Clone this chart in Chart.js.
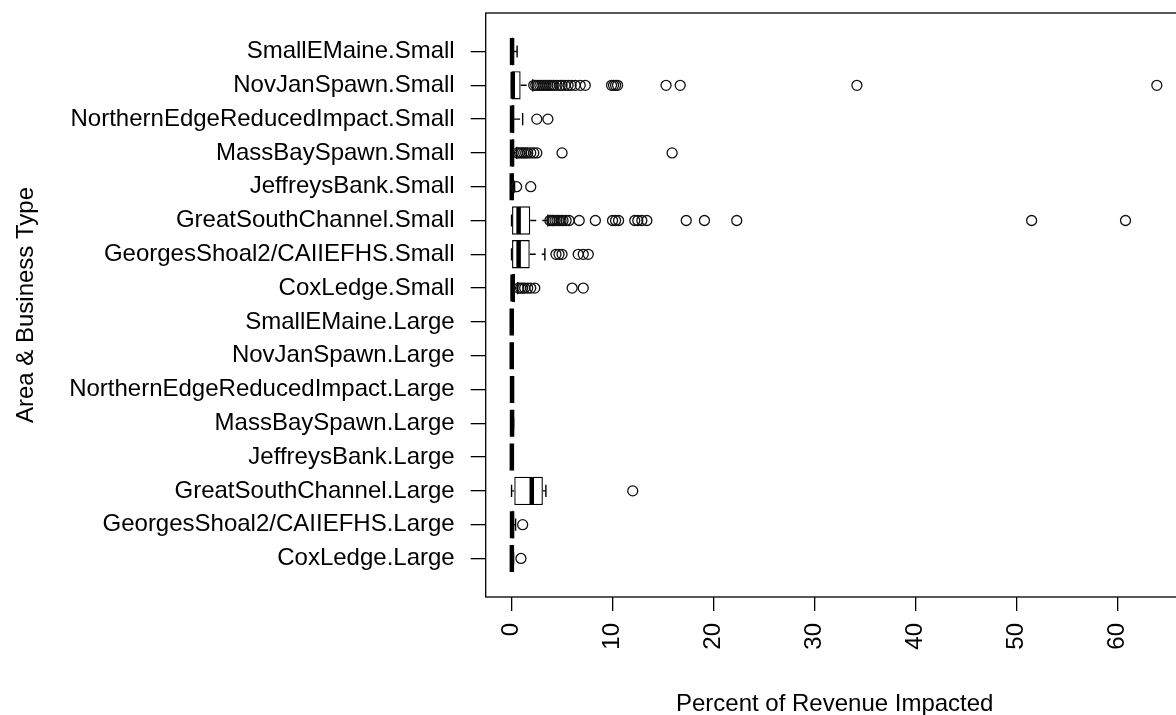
<!DOCTYPE html>
<html>
<head>
<meta charset="utf-8">
<script src="https://cdn.jsdelivr.net/npm/chart.js@4.4.1/dist/chart.umd.min.js"></script>
<style>
html, body { margin: 0; padding: 0; background: #fff; overflow: hidden; width: 1176px; height: 715px; }
#c { display: block; }
</style>
</head>
<body>
<canvas id="c" width="1190" height="715"></canvas>
<script>
// ---- data (top row first) ----
const categories = [
  'SmallEMaine.Small', 'NovJanSpawn.Small', 'NorthernEdgeReducedImpact.Small', 'MassBaySpawn.Small',
  'JeffreysBank.Small', 'GreatSouthChannel.Small', 'GeorgesShoal2/CAIIEFHS.Small', 'CoxLedge.Small',
  'SmallEMaine.Large', 'NovJanSpawn.Large', 'NorthernEdgeReducedImpact.Large', 'MassBaySpawn.Large',
  'JeffreysBank.Large', 'GreatSouthChannel.Large', 'GeorgesShoal2/CAIIEFHS.Large', 'CoxLedge.Large'
];
const whiskerLow  = [0, 0,    0,    0,    0,    0,    0,    0,    0, 0, 0,    0,    0,    0.0,  0,    0];
const q1          = [0, 0.02, 0,    0,    0,    0.05, 0.05, 0,    0, 0, 0,    0,    0,    0.27, 0,    0];
const medians     = [0.05, 0.12, 0.05, 0.05, 0.02, 0.7, 0.7, 0.1, 0.02, 0.02, 0.05, 0.05, 0.03, 2.0, 0.05, 0.03];
const q3          = [0.15, 0.9, 0.25, 0.2, 0.1, 1.85, 1.8, 0.35, 0.05, 0.05, 0.1, 0.1, 0.05, 3.1, 0.2, 0.1];
const whiskerHigh = [0.55, 2.1, 1.1, 0.5, 0.3, 3.6, 3.3, 0.6, 0.1, 0.1, 0.15, 0.2, 0.1, 3.4, 0.4, 0.2];
const outliers = [
  [],
  [2.2, 2.4, 2.6, 2.8, 3.0, 3.2, 3.4, 3.6, 3.8, 4.0, 4.2, 4.5, 4.8, 5.0, 5.3, 5.6, 5.9, 6.3, 6.8, 7.3,
   9.9, 10.1, 10.3, 10.5, 15.3, 16.7, 34.2, 63.9],
  [2.5, 3.6],
  [0.6, 0.8, 1.0, 1.2, 1.4, 1.6, 1.9, 2.2, 2.5, 5.0, 15.9],
  [0.5, 1.9],
  [3.8, 4.0, 4.1, 4.3, 4.5, 4.7, 4.9, 5.1, 5.4, 5.7, 6.7, 8.3, 10.0, 10.3, 10.6, 12.2, 12.5, 12.9, 13.4,
   17.3, 19.1, 22.3, 51.5, 60.8],
  [4.4, 4.7, 5.0, 6.6, 7.1, 7.6],
  [0.7, 0.9, 1.1, 1.3, 1.6, 1.9, 2.3, 6.0, 7.1],
  [], [], [], [], [],
  [12.0],
  [1.1],
  [0.93]
];
const xTicks = [0, 10, 20, 30, 40, 50, 60];
const xTitle = 'Percent of Revenue Impacted';
const yTitle = 'Area & Business Type';

// ---- build datasets from the arrays ----
const n = categories.length;
const posOf = i => n - i;
const GAP = { x: NaN, y: NaN };
const HALF_BOX = 0.4, HALF_STAPLE = 0.18;

const boxData = categories.map((c, i) => ({ x: [q1[i], q3[i]], y: posOf(i) }));
const medianData = [], whiskerData = [], stapleData = [], outlierData = [];
categories.forEach((c, i) => {
  const p = posOf(i);
  medianData.push({ x: medians[i], y: p - HALF_BOX }, { x: medians[i], y: p + HALF_BOX }, GAP);
  whiskerData.push({ x: q3[i], y: p }, { x: whiskerHigh[i], y: p }, GAP,
                   { x: whiskerLow[i], y: p }, { x: q1[i], y: p }, GAP);
  stapleData.push({ x: whiskerHigh[i], y: p - HALF_STAPLE }, { x: whiskerHigh[i], y: p + HALF_STAPLE }, GAP,
                  { x: whiskerLow[i], y: p - HALF_STAPLE }, { x: whiskerLow[i], y: p + HALF_STAPLE }, GAP);
  outliers[i].forEach(v => outlierData.push({ x: v, y: p }));
});

const FONT = 'Liberation Sans, Arial, sans-serif';
const INK = '#000';

const frame = {
  id: 'frame',
  afterDatasetsDraw(chart) {
    const { ctx, chartArea: a } = chart;
    ctx.save();
    ctx.strokeStyle = INK;
    ctx.lineWidth = 1.3;
    ctx.strokeRect(a.left, a.top, a.right - a.left, a.bottom - a.top);
    ctx.restore();
  }
};

new Chart(document.getElementById('c'), {
  type: 'bar',
  data: {
    datasets: [
      { type: 'scatter', data: outlierData, order: 0, showLine: false,
        pointStyle: 'circle', pointRadius: 5, pointHoverRadius: 5, pointBorderWidth: 1.3,
        pointBackgroundColor: 'rgba(0,0,0,0)', pointBorderColor: '#111' },
      { type: 'line', data: medianData, order: 1, borderColor: INK, borderWidth: 4.5,
        borderCapStyle: 'butt', pointRadius: 0, spanGaps: false, fill: false, tension: 0 },
      { type: 'line', data: stapleData, order: 2, borderColor: INK, borderWidth: 1.4,
        pointRadius: 0, spanGaps: false, fill: false, tension: 0 },
      { type: 'line', data: whiskerData, order: 3, borderColor: INK, borderWidth: 1.4, borderDash: [6, 6],
        pointRadius: 0, spanGaps: false, fill: false, tension: 0 },
      { type: 'bar', data: boxData, order: 4, indexAxis: 'y', grouped: false,
        backgroundColor: '#fff', borderColor: INK, borderWidth: 1.4, borderSkipped: false,
        barPercentage: 0.84, categoryPercentage: 1 }
    ]
  },
  options: {
    responsive: false,
    devicePixelRatio: 1,
    animation: false,
    events: [],
    layout: { padding: { top: 13, right: 1.4, bottom: 0, left: 0 } },
    plugins: { legend: { display: false }, tooltip: { enabled: false } },
    scales: {
      x: {
        type: 'linear', min: -2.56, max: 66.56, offset: false,
        afterBuildTicks: s => { s.ticks = xTicks.map(v => ({ value: v })); },
        afterFit: s => { s.height = 118; s.paddingLeft = 0; s.paddingRight = 0; s.paddingTop = 0; s.paddingBottom = 0; },
        border: { display: false },
        grid: { offset: false, drawOnChartArea: false, drawTicks: true, tickLength: 14, color: INK, lineWidth: 1.3 },
        ticks: { minRotation: 90, maxRotation: 90, padding: 12, autoSkip: false, color: INK,
                 font: { family: FONT, size: 24 }, callback: v => String(v) },
        title: { display: true, text: xTitle, color: INK, padding: 0,
                 font: { family: FONT, size: 24, lineHeight: 0.85 } }
      },
      y: {
        type: 'linear', min: -0.14, max: 17.14, offset: false,
        afterBuildTicks: s => { s.ticks = categories.map((c, i) => ({ value: posOf(i) })); },
        afterFit: s => { s.width = 485.7; s.paddingLeft = 0; s.paddingRight = 0; s.paddingTop = 0; s.paddingBottom = 0; },
        border: { display: false },
        grid: { offset: false, drawOnChartArea: false, drawTicks: true, tickLength: 15, color: INK, lineWidth: 1.3 },
        ticks: { autoSkip: false, padding: 16, color: INK, font: { family: FONT, size: 24 },
                 callback: v => categories[n - v] },
        title: { display: true, text: yTitle, color: INK, padding: { top: 14, bottom: 0 },
                 font: { family: FONT, size: 24, lineHeight: 1 } }
      }
    }
  },
  plugins: [frame]
});
</script>
</body>
</html>
